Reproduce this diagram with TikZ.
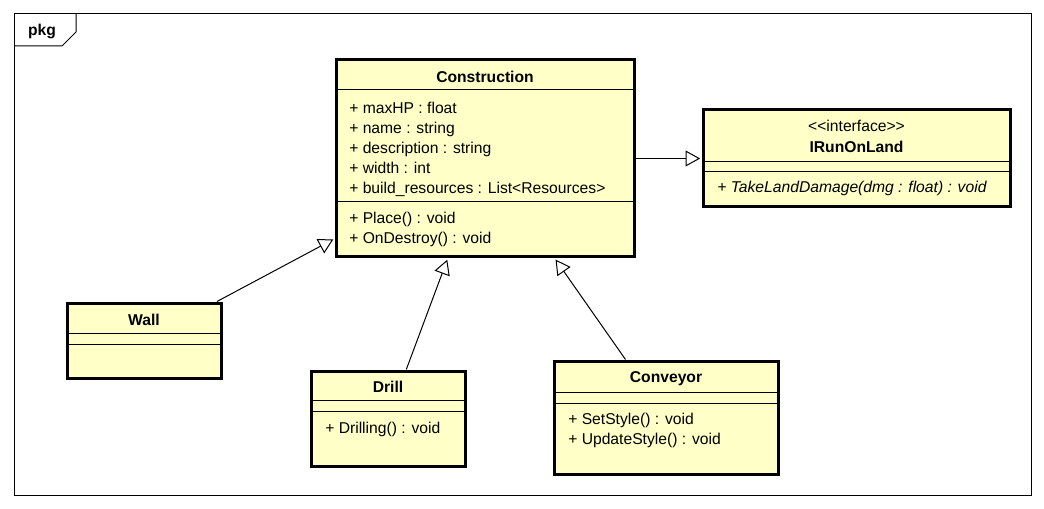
\documentclass[tikz,border=0pt]{standalone}
\usepackage{fontspec}
\setmainfont{Liberation Sans}
\usepackage{tikz}
\usetikzlibrary{arrows.meta}
\definecolor{classfill}{HTML}{FFFFC8}
\newcommand{\umlfont}{\fontsize{11.75pt}{14pt}\selectfont}
\tikzset{class/.style = {draw, line width = 2.25pt, fill = classfill, inner sep = 0}}
\tikzset{sep/.style = {line width = 0.75pt}}
\tikzset{frame/.style = {line width = 0.75pt}}
\tikzset{title/.style = {anchor = base, inner sep = 0, font = \umlfont\bfseries}}
\tikzset{stereo/.style = {anchor = base, inner sep = 0, font = \umlfont}}
\tikzset{member/.style = {anchor = base west, inner sep = 0, font = \umlfont}}
\tikzset{gen/.style = {line width = 0.75pt, -{Triangle[open, length = 11pt, width = 12pt]}, shorten > = 1pt}}

\begin{document}
\begin{tikzpicture}[x = 0.75pt, y = -0.75pt]
  \useasboundingbox (0, 0) rectangle (1044, 509);
  \draw [frame] (14, 14) rectangle (1031, 495);
  \draw [frame] (14, 46) -- (62, 46) -- (76, 32) -- (76, 14);
  \node [title] (pkg) at (42, 36) {pkg};

  \node [class, minimum width = 298*0.75pt, minimum height = 197*0.75pt] (constr) at (485, 158.5) {};
  \draw [sep] (336, 90) -- (634, 90);
  \draw [sep] (336, 202) -- (634, 202);
  \node [title] (constr-name) at (485, 83) {Construction};
  \node [member] (constr-a1) at (349, 114) {+ maxHP : float};
  \node [member] (constr-a2) at (349, 134) {+ name : string};
  \node [member] (constr-a3) at (349, 154) {+ description : string};
  \node [member] (constr-a4) at (349, 174) {+ width : int};
  \node [member] (constr-a5) at (349, 194) {+ build\_resources : List<Resources>};
  \node [member] (constr-m1) at (349, 224) {+ Place() : void};
  \node [member] (constr-m2) at (349, 244) {+ OnDestroy() : void};

  \node [class, minimum width = 307*0.75pt, minimum height = 97*0.75pt] (iface) at (856.5, 158.5) {};
  \draw [sep] (703, 161.5) -- (1010, 161.5);
  \draw [sep] (703, 172) -- (1010, 172);
  \node [stereo] (iface-stereo) at (856.5, 132) {<{}<interface>{}>};
  \node [title] (iface-name) at (856.5, 153) {IRunOnLand};
  \node [member, font = \umlfont\itshape] (iface-m1) at (717, 193) {+ TakeLandDamage(dmg : float) : void};

  \node [class, minimum width = 154*0.75pt, minimum height = 75*0.75pt] (wall) at (144, 340.5) {};
  \draw [sep] (67, 333) -- (221, 333);
  \draw [sep] (67, 344) -- (221, 344);
  \node [title] (wall-name) at (144, 325) {Wall};

  \node [class, minimum width = 154*0.75pt, minimum height = 95*0.75pt] (drill) at (388, 418.5) {};
  \draw [sep] (311, 400.5) -- (465, 400.5);
  \draw [sep] (311, 411) -- (465, 411);
  \node [title] (drill-name) at (388, 392) {Drill};
  \node [member] (drill-m1) at (325, 433) {+ Drilling() : void};

  \node [class, minimum width = 224*0.75pt, minimum height = 113*0.75pt] (conveyor) at (666, 417.5) {};
  \draw [sep] (554, 392.5) -- (778, 392.5);
  \draw [sep] (554, 403) -- (778, 403);
  \node [title] (conveyor-name) at (666, 382) {Conveyor};
  \node [member] (conveyor-m1) at (568, 424) {+ SetStyle() : void};
  \node [member] (conveyor-m2) at (568, 444) {+ UpdateStyle() : void};

  \draw [gen] (constr) -- (iface);
  \draw [gen] (wall) -- (constr);
  \draw [gen] (drill) -- (constr);
  \draw [gen] (conveyor) -- (constr);
\end{tikzpicture}
\end{document}
